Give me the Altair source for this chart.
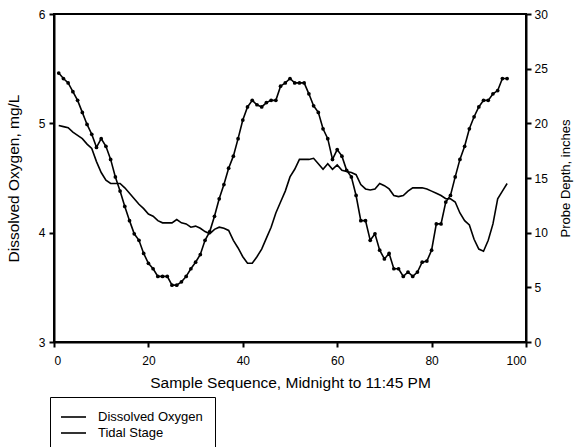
import altair as alt
import pandas as pd

# ---- data ----
sample = list(range(1, 97))

dissolved_oxygen = [
    4.98, 4.97, 4.96, 4.92, 4.89, 4.86, 4.81, 4.77, 4.65, 4.55,
    4.48, 4.45, 4.45, 4.45, 4.41, 4.36, 4.31, 4.26, 4.22, 4.17,
    4.15, 4.11, 4.09, 4.09, 4.09, 4.12, 4.09, 4.08, 4.05, 4.06,
    4.04, 4.01, 3.99, 4.03, 4.05, 4.04, 4.02, 3.93, 3.86, 3.78,
    3.72, 3.72, 3.78, 3.85, 3.95, 4.05, 4.18, 4.28, 4.38, 4.51,
    4.58, 4.67, 4.67, 4.67, 4.68, 4.63, 4.58, 4.63, 4.58, 4.62,
    4.57, 4.56, 4.55, 4.53, 4.44, 4.40, 4.39, 4.40, 4.45, 4.43,
    4.40, 4.34, 4.33, 4.34, 4.38, 4.41, 4.41, 4.41, 4.40, 4.38,
    4.36, 4.34, 4.31, 4.31, 4.28, 4.18, 4.11, 4.07, 3.94, 3.85,
    3.83, 3.93, 4.08, 4.31, 4.38, 4.45,
]

tidal_stage = [
    24.6, 24.1, 23.7, 22.9, 22.1, 21.0, 19.9, 19.0, 17.8, 18.6,
    17.9, 16.7, 15.1, 13.8, 12.4, 11.1, 9.9, 9.3, 8.1, 7.2,
    6.7, 6.0, 6.0, 6.0, 5.2, 5.2, 5.5, 6.0, 6.7, 7.3,
    8.0, 9.3, 10.1, 11.5, 13.1, 14.4, 15.9, 17.0, 18.6, 20.3,
    21.5, 22.1, 21.7, 21.5, 21.9, 22.1, 22.1, 23.4, 23.7, 24.1,
    23.7, 23.7, 23.7, 22.7, 21.6, 21.0, 19.5, 18.6, 16.7, 17.6,
    17.0, 15.7, 15.1, 13.4, 11.1, 11.1, 9.3, 9.9, 8.4, 7.6,
    8.1, 6.7, 6.7, 6.0, 6.4, 6.0, 6.4, 7.3, 7.4, 8.4,
    10.8, 10.8, 12.8, 13.4, 15.1, 16.7, 17.9, 19.5, 20.6, 21.5,
    22.1, 22.1, 22.7, 23.0, 24.1, 24.1,
]

series_names = ["Dissolved Oxygen", "Tidal Stage"]
x_ticks = [0, 20, 40, 60, 80, 100]
do_ticks = [3, 4, 5, 6]
tide_ticks = [0, 5, 10, 15, 20, 25, 30]

x_title = "Sample Sequence, Midnight to 11:45 PM"
left_title = "Dissolved Oxygen, mg/L"
right_title = "Probe Depth, inches"

df_do = pd.DataFrame({"sample": sample, "value": dissolved_oxygen, "series": series_names[0]})
df_tide = pd.DataFrame({"sample": sample, "value": tidal_stage, "series": series_names[1]})

FONT = "Liberation Sans"

x_enc = alt.X(
    "sample:Q",
    scale=alt.Scale(domain=[0, 100], nice=False, zero=False),
    axis=alt.Axis(values=x_ticks, title=x_title, labelPadding=8, titlePadding=9,
                  titleFontSize=15.5),
)

line_path = "M-1.29,0L2.29,0"

color = alt.Color(
    "series:N",
    scale=alt.Scale(domain=series_names, range=["black", "black"]),
    legend=alt.Legend(
        title=None,
        orient="none",
        legendX=-4,
        legendY=383,
        strokeColor="black",
        padding=12,
        symbolSize=196,
        symbolStrokeWidth=1.6,
        labelOffset=20,
        labelFont=FONT,
        labelFontSize=13,
        labelColor="black",
        rowPadding=1,
        symbolType=line_path,
    ),
)

do_line = alt.Chart(df_do).mark_line(strokeWidth=1.6).encode(
    x=x_enc,
    y=alt.Y(
        "value:Q",
        scale=alt.Scale(domain=[3, 6], nice=False, zero=False),
        axis=alt.Axis(values=do_ticks, title=left_title, orient="left",
                      labelPadding=4, titlePadding=17, titleFontSize=15.5),
    ),
    color=color,
)

tide_y = alt.Y(
    "value:Q",
    scale=alt.Scale(domain=[0, 30], nice=False, zero=False),
    axis=alt.Axis(values=tide_ticks, title=right_title, orient="right",
                  labelPadding=3, titlePadding=25, titleAngle=270,
                  titleFontSize=13),
)

tide_line = alt.Chart(df_tide).mark_line(strokeWidth=1.6).encode(
    x=x_enc, y=tide_y, color=color
)
tide_pts = alt.Chart(df_tide).mark_point(filled=True, size=14, color="black", opacity=1).encode(
    x=x_enc, y=tide_y
)

tide = alt.layer(tide_line, tide_pts)

chart = (
    alt.layer(do_line, tide)
    .resolve_scale(y="independent")
    .properties(
        width=472,
        height=328,
        padding={"left": 54, "top": 14, "right": 51, "bottom": 105},
        autosize=alt.AutoSizeParams(type="none"),
        background="white",
    )
    .configure_view(stroke="black", strokeWidth=2)
    .configure_axis(
        grid=False,
        domainColor="black",
        domainWidth=2,
        tickColor="black",
        tickWidth=2,
        tickSize=5,
        labelColor="black",
        labelFont=FONT,
        labelFontSize=12,
        titleColor="black",
        titleFont=FONT,
        titleFontSize=14,
        titleFontWeight="normal",
    )
)

chart.save("out.html", embed_options={"renderer": "svg", "actions": False})
